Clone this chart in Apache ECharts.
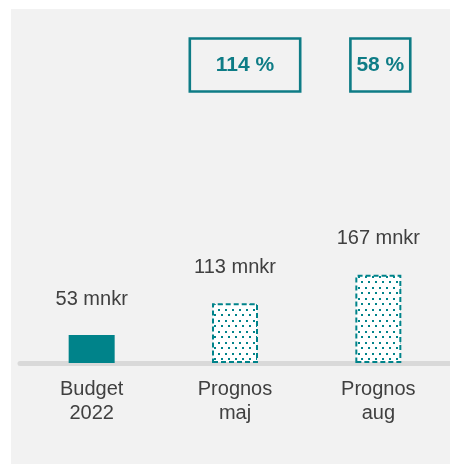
<!DOCTYPE html>
<html>
<head>
<meta charset="utf-8">
<script src="https://cdn.jsdelivr.net/npm/echarts@6/dist/echarts.min.js"></script>
<style>
  html, body { margin: 0; padding: 0; background: #ffffff; }
  #bg { position: absolute; left: 11px; top: 9px; width: 439px; height: 455px; background: #f2f2f2; }
  #chart { position: absolute; left: 0; top: 0; width: 450px; height: 464px; }
</style>
</head>
<body>
<div id="bg"></div>
<div id="chart"></div>
<script>
// ---- data ----
const categories = ['Budget\n2022', 'Prognos\nmaj', 'Prognos\naug'];
const values = [53, 113, 167];
const unit = 'mnkr';
const pctCategories = ['Prognos\nmaj', 'Prognos\naug'];
const pctLabels = ['114 %', '58 %'];

// ---- styles ----
const TEAL = '#00838a';
const TEXT = '#404040';

function dotPattern() {
  const c = document.createElement('canvas');
  c.width = 14; c.height = 11;
  const ctx = c.getContext('2d');
  ctx.fillStyle = '#ffffff';
  ctx.fillRect(0, 0, 14, 11);
  ctx.fillStyle = TEAL;
  [[1, 1], [8, 1], [4, 6], [11, 6]].forEach(([x, y]) => ctx.fillRect(x, y, 2, 2));
  return c;
}
const pattern = { image: dotPattern(), repeat: 'repeat' };

const barData = values.map((v, i) => {
  if (i === 0) {
    return { value: v, itemStyle: { color: TEAL } };
  }
  return {
    value: v,
    itemStyle: {
      color: pattern,
      borderColor: TEAL,
      borderWidth: 2,
      borderType: [5, 3]
    }
  };
});

const boxPad = [[16, 26], [16, 6]];
const boxOffset = [[10, 0], [2, 0]];
const boxData = pctLabels.map((t, i) => ({
  value: [pctCategories[i], 564],
  label: {
    formatter: t,
    padding: boxPad[i],
    offset: boxOffset[i]
  }
}));

const chart = echarts.init(document.getElementById('chart'), null, { renderer: 'canvas' });
chart.setOption({
  backgroundColor: 'transparent',
  animation: false,
  textStyle: { fontFamily: 'Liberation Sans, Arial, sans-serif' },
  grid: { left: 20, right: -2, top: 9, bottom: 101, containLabel: false },
  xAxis: {
    type: 'category',
    data: categories,
    offset: 2.5,
    axisLine: { show: true, lineStyle: { color: '#d9d9d9', width: 5 } },
    axisTick: { show: false },
    axisLabel: {
      color: TEXT, fontSize: 20, lineHeight: 24, margin: 12,
      fontFamily: 'Liberation Sans, Arial, sans-serif'
    }
  },
  yAxis: {
    type: 'value', min: 0, max: 670,
    show: false,
    splitLine: { show: false }
  },
  series: [
    {
      type: 'bar',
      data: barData,
      barWidth: 46,
      label: {
        show: true,
        position: 'top',
        distance: 26,
        color: TEXT,
        fontSize: 20,
        fontFamily: 'Liberation Sans, Arial, sans-serif',
        formatter: p => p.value + ' ' + unit
      }
    },
    {
      type: 'scatter',
      data: boxData,
      symbolSize: 0,
      silent: true,
      itemStyle: { opacity: 1 },
      label: {
        show: true,
        position: 'inside',
        color: '#0e7c86',
        fontSize: 21,
        fontWeight: 'bold',
        opacity: 1,
        fontFamily: 'Liberation Sans, Arial, sans-serif',
        borderColor: '#0e7c86',
        borderWidth: 1.3,
        backgroundColor: 'transparent'
      }
    }
  ]
});
</script>
</body>
</html>
